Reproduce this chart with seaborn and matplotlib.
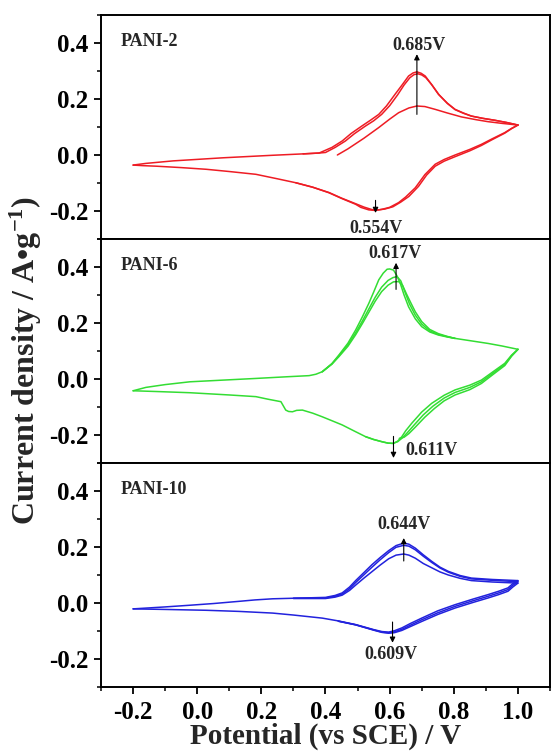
import numpy as np
import pandas as pd
import matplotlib
matplotlib.use("Agg")
import matplotlib.pyplot as plt
import seaborn as sns

sns.set_theme(style="ticks")
plt.rcParams.update({
    "font.family": ["Liberation Serif", "DejaVu Serif"],
    "font.weight": "bold",
    "mathtext.fontset": "custom",
    "mathtext.rm": "Liberation Serif:bold",
    "mathtext.it": "Liberation Serif:italic:bold",
    "mathtext.bf": "Liberation Serif:bold",
    "axes.linewidth": 1.4,
    "xtick.direction": "out", "ytick.direction": "out",
    "xtick.major.size": 5, "xtick.minor.size": 3,
    "ytick.major.size": 5, "ytick.minor.size": 3,
    "xtick.major.width": 1.3, "xtick.minor.width": 1.1,
    "ytick.major.width": 1.3, "ytick.minor.width": 1.1,
    "xtick.color": "black", "ytick.color": "black",
})

# --- PANI-2 (red) ---
p2_first_x = [0.437, 0.47, 0.52, 0.566, 0.60, 0.628, 0.66, 0.685, 0.71, 0.742, 0.78, 0.824, 0.87, 0.907, 0.95, 1.0]
p2_first_y = [0.0, 0.022, 0.06, 0.098, 0.128, 0.151, 0.168, 0.175, 0.173, 0.163, 0.150, 0.136, 0.126, 0.119, 0.113, 0.107]

p2_cat_a_x = [1.0, 0.98, 0.959, 0.92, 0.886, 0.85, 0.804, 0.77, 0.742, 0.71, 0.68, 0.65, 0.628, 0.60, 0.576, 0.555,
              0.535, 0.51, 0.494, 0.45, 0.411, 0.36, 0.307, 0.25, 0.183, 0.10, 0.028, -0.05, -0.127, -0.17, -0.2]
p2_cat_a_y = [0.107, 0.095, 0.08, 0.058, 0.038, 0.02, 0.0, -0.016, -0.033, -0.07, -0.117, -0.150, -0.170, -0.187,
              -0.194, -0.198, -0.196, -0.187, -0.176, -0.155, -0.135, -0.115, -0.099, -0.085, -0.069, -0.059,
              -0.051, -0.045, -0.040, -0.038, -0.036]
p2_an_a_x = [-0.2, -0.16, -0.075, 0.08, 0.235, 0.33, 0.38, 0.42, 0.452, 0.48, 0.514, 0.54, 0.566, 0.59, 0.617,
             0.64, 0.659, 0.673, 0.685, 0.698, 0.711, 0.73, 0.752, 0.78, 0.804, 0.83, 0.855, 0.89, 0.928, 0.965, 1.0]
p2_an_a_y = [-0.036, -0.030, -0.021, -0.010, -0.001, 0.004, 0.007, 0.027, 0.05, 0.077, 0.104, 0.124, 0.145, 0.175,
             0.217, 0.252, 0.282, 0.293, 0.297, 0.292, 0.282, 0.253, 0.217, 0.185, 0.163, 0.150, 0.139, 0.131,
             0.124, 0.116, 0.107]

p2_cat_b_x = [1.0, 0.98, 0.959, 0.92, 0.886, 0.85, 0.804, 0.77, 0.742, 0.715, 0.69, 0.66, 0.635, 0.61, 0.585, 0.565,
              0.545, 0.52, 0.494, 0.45, 0.411, 0.36, 0.307]
p2_cat_b_y = [0.107, 0.094, 0.078, 0.055, 0.034, 0.015, -0.006, -0.022, -0.040, -0.072, -0.112, -0.148, -0.168,
              -0.185, -0.193, -0.196, -0.195, -0.186, -0.174, -0.154, -0.134, -0.115, -0.099]
p2_an_b_x = [0.33, 0.38, 0.40, 0.43, 0.462, 0.49, 0.524, 0.55, 0.575, 0.60, 0.625, 0.645, 0.663, 0.676, 0.688,
             0.70, 0.713, 0.732, 0.754, 0.78, 0.804, 0.83, 0.855, 0.89, 0.928, 0.965, 1.0]
p2_an_b_y = [0.004, 0.007, 0.009, 0.027, 0.05, 0.076, 0.103, 0.122, 0.145, 0.176, 0.215, 0.250, 0.276, 0.287,
             0.290, 0.286, 0.276, 0.250, 0.215, 0.184, 0.162, 0.149, 0.139, 0.131, 0.124, 0.116, 0.107]

# --- PANI-6 (green) ---
p6_cat_a_x = [1.0, 0.98, 0.959, 0.92, 0.886, 0.85, 0.804, 0.77, 0.731, 0.70, 0.669, 0.65, 0.638, 0.625, 0.612, 0.595,
              0.576, 0.55, 0.525, 0.49, 0.452, 0.42, 0.39, 0.36, 0.328, 0.31, 0.297, 0.285, 0.276, 0.268, 0.261,
              0.22, 0.183, 0.10, -0.023, -0.12, -0.2]
p6_cat_a_y = [0.106, 0.085, 0.056, 0.024, -0.004, -0.022, -0.039, -0.058, -0.087, -0.118, -0.158, -0.185, -0.206,
              -0.222, -0.230, -0.229, -0.224, -0.216, -0.206, -0.186, -0.164, -0.149, -0.135, -0.122, -0.111,
              -0.112, -0.117, -0.116, -0.111, -0.095, -0.081, -0.072, -0.063, -0.057, -0.049, -0.045, -0.042]
p6_an_a_x = [-0.2, -0.16, -0.1, -0.023, 0.08, 0.183, 0.28, 0.349, 0.37, 0.39, 0.42, 0.442, 0.47, 0.494, 0.515, 0.535,
             0.55, 0.566, 0.58, 0.592, 0.60, 0.612, 0.622, 0.633, 0.645, 0.659, 0.68, 0.70, 0.725, 0.752, 0.78,
             0.804, 0.85, 0.907, 0.95, 1.0]
p6_an_a_y = [-0.042, -0.030, -0.020, -0.010, -0.004, 0.002, 0.008, 0.012, 0.017, 0.026, 0.055, 0.086, 0.128, 0.175,
             0.222, 0.27, 0.31, 0.354, 0.378, 0.392, 0.393, 0.389, 0.37, 0.342, 0.30, 0.258, 0.215, 0.187, 0.168,
             0.157, 0.150, 0.145, 0.137, 0.127, 0.118, 0.106]

p6_cat_b_x = [1.0, 0.98, 0.959, 0.92, 0.886, 0.85, 0.804, 0.77, 0.735, 0.705, 0.675, 0.655, 0.64, 0.625, 0.61,
              0.595, 0.576, 0.55, 0.525]
p6_cat_b_y = [0.106, 0.083, 0.052, 0.019, -0.010, -0.030, -0.048, -0.068, -0.097, -0.128, -0.166, -0.192, -0.210,
              -0.224, -0.230, -0.229, -0.224, -0.216, -0.206]
p6_an_b_x = [0.39, 0.42, 0.442, 0.47, 0.494, 0.515, 0.535, 0.555, 0.575, 0.595, 0.61, 0.623, 0.635, 0.648, 0.662,
             0.68, 0.70, 0.725, 0.752, 0.78, 0.804]
p6_an_b_y = [0.026, 0.054, 0.083, 0.122, 0.165, 0.207, 0.250, 0.292, 0.328, 0.352, 0.362, 0.366, 0.350, 0.310,
             0.268, 0.228, 0.196, 0.172, 0.159, 0.151, 0.145]

p6_cat_c_x = [1.0, 0.98, 0.959, 0.92, 0.886, 0.85, 0.804, 0.77, 0.74, 0.71, 0.68, 0.66, 0.645, 0.63]
p6_cat_c_y = [0.106, 0.081, 0.048, 0.014, -0.016, -0.038, -0.057, -0.078, -0.105, -0.136, -0.172, -0.195, -0.208,
              -0.212]
p6_an_c_x = [0.39, 0.42, 0.442, 0.47, 0.494, 0.515, 0.535, 0.555, 0.575, 0.595, 0.612, 0.628, 0.64, 0.652, 0.666,
             0.68, 0.70, 0.725, 0.752, 0.78, 0.804]
p6_an_c_y = [0.026, 0.053, 0.080, 0.117, 0.158, 0.198, 0.238, 0.278, 0.312, 0.335, 0.347, 0.348, 0.335, 0.305,
             0.272, 0.240, 0.205, 0.177, 0.162, 0.152, 0.145]

# --- PANI-10 (blue) ---
p10_cat_a_x = [1.0, 0.985, 0.969, 0.94, 0.907, 0.86, 0.804, 0.75, 0.70, 0.665, 0.638, 0.615, 0.597, 0.576, 0.55,
               0.494, 0.44, 0.39, 0.30, 0.235, 0.13, 0.028, -0.1, -0.2]
p10_cat_a_y = [0.080, 0.070, 0.054, 0.042, 0.030, 0.014, -0.006, -0.028, -0.054, -0.073, -0.089, -0.099, -0.104,
               -0.102, -0.095, -0.077, -0.064, -0.054, -0.043, -0.036, -0.030, -0.026, -0.023, -0.021]
p10_an_a_x = [-0.2, -0.1, -0.023, 0.05, 0.131, 0.18, 0.235, 0.30, 0.40, 0.43, 0.452, 0.475, 0.494, 0.52, 0.545,
              0.57, 0.597, 0.62, 0.644, 0.66, 0.68, 0.705, 0.731, 0.757, 0.783, 0.82, 0.855, 0.92, 1.0]
p10_an_a_y = [-0.021, -0.014, -0.008, -0.002, 0.006, 0.011, 0.015, 0.017, 0.020, 0.027, 0.036, 0.057, 0.080, 0.109,
              0.137, 0.162, 0.187, 0.205, 0.214, 0.210, 0.196, 0.172, 0.149, 0.128, 0.113, 0.098, 0.089, 0.084, 0.080]

p10_cat_b_x = [1.0, 0.985, 0.969, 0.94, 0.907, 0.86, 0.804, 0.75, 0.70, 0.665, 0.638, 0.615, 0.597, 0.576, 0.55,
               0.494, 0.44]
p10_cat_b_y = [0.076, 0.064, 0.048, 0.036, 0.024, 0.008, -0.012, -0.035, -0.060, -0.079, -0.094, -0.103, -0.106,
               -0.104, -0.096, -0.078, -0.065]
p10_an_b_x = [0.30, 0.40, 0.43, 0.452, 0.475, 0.494, 0.52, 0.545, 0.57, 0.597, 0.62, 0.644, 0.66, 0.68, 0.705,
              0.731, 0.757, 0.783, 0.82, 0.855, 0.92, 1.0]
p10_an_b_y = [0.017, 0.018, 0.024, 0.032, 0.051, 0.073, 0.101, 0.128, 0.154, 0.180, 0.199, 0.206, 0.203, 0.190,
              0.167, 0.145, 0.125, 0.110, 0.095, 0.086, 0.081, 0.076]

p10_cat_c_x = [1.0, 0.985, 0.969, 0.94, 0.907, 0.86, 0.804, 0.75, 0.70, 0.665, 0.638, 0.615, 0.597, 0.576, 0.55,
               0.494, 0.44]
p10_cat_c_y = [0.071, 0.058, 0.042, 0.030, 0.018, 0.002, -0.018, -0.041, -0.066, -0.084, -0.098, -0.106, -0.108,
               -0.105, -0.097, -0.078, -0.065]
p10_an_c_x = [0.30, 0.40, 0.43, 0.452, 0.475, 0.494, 0.52, 0.545, 0.57, 0.597, 0.62, 0.644, 0.66, 0.68, 0.705,
              0.731, 0.757, 0.783, 0.82, 0.855, 0.92, 1.0]
p10_an_c_y = [0.016, 0.016, 0.021, 0.028, 0.045, 0.064, 0.089, 0.112, 0.135, 0.158, 0.171, 0.175, 0.171, 0.160,
              0.141, 0.126, 0.111, 0.100, 0.088, 0.080, 0.075, 0.071]

panels = [
    ("PANI-2", "#ee1c24", [
        (p2_first_x, p2_first_y), (p2_cat_a_x, p2_cat_a_y), (p2_an_a_x, p2_an_a_y),
        (p2_cat_b_x, p2_cat_b_y), (p2_an_b_x, p2_an_b_y)]),
    ("PANI-6", "#33dd33", [
        (p6_cat_a_x, p6_cat_a_y), (p6_an_a_x, p6_an_a_y), (p6_cat_b_x, p6_cat_b_y),
        (p6_an_b_x, p6_an_b_y), (p6_cat_c_x, p6_cat_c_y), (p6_an_c_x, p6_an_c_y)]),
    ("PANI-10", "#2222dd", [
        (p10_cat_a_x, p10_cat_a_y), (p10_an_a_x, p10_an_a_y), (p10_cat_b_x, p10_cat_b_y),
        (p10_an_b_x, p10_an_b_y), (p10_cat_c_x, p10_cat_c_y), (p10_an_c_x, p10_an_c_y)]),
]

# peak annotations: (arrow x, tail y, head y, label, text x, text y)
peak_notes = [
    [(0.685, 0.145, 0.36, "0.685V", 0.69, 0.39), (0.556, -0.162, -0.207, "0.554V", 0.556, -0.262)],
    [(0.62, 0.32, 0.415, "0.617V", 0.617, 0.447), (0.612, -0.205, -0.282, "0.611V", 0.73, -0.255)],
    [(0.644, 0.15, 0.232, "0.644V", 0.644, 0.28), (0.609, -0.068, -0.142, "0.609V", 0.605, -0.183)],
]

W, H = 551, 755
fig = plt.figure(figsize=(W / 100, H / 100), dpi=100)
left, right = 101 / W, 550 / W
ph = 224 / H
bottom0 = 68 / H

axes = []
for i, (name, color, traces) in enumerate(panels):
    ax = fig.add_axes([left, bottom0 + (2 - i) * ph, right - left, ph])
    axes.append(ax)
    rows = []
    for k, (xs, ys) in enumerate(traces):
        rows.append(pd.DataFrame({"potential": xs, "current": ys, "trace": k}))
    df = pd.concat(rows, ignore_index=True)
    sns.lineplot(data=df, x="potential", y="current", units="trace", estimator=None, sort=False,
                 color=color, lw=1.1, ax=ax)
    ax.set_xlim(-0.3, 1.1)
    ax.set_ylim(-0.3, 0.5)
    ax.set_yticks([-0.2, 0.0, 0.2, 0.4])
    ax.set_yticks([-0.3, -0.1, 0.1, 0.3, 0.5], minor=True)
    ax.set_yticklabels(["-0.2", "0.0", "0.2", "0.4"], fontsize=18, fontweight="bold")
    ax.set_xticks([-0.2, 0.0, 0.2, 0.4, 0.6, 0.8, 1.0])
    ax.set_xticks([-0.3, -0.1, 0.1, 0.3, 0.5, 0.7, 0.9, 1.1], minor=True)
    ax.tick_params(axis="y", which="both", right=False, pad=4)
    if i < 2:
        ax.tick_params(axis="x", which="both", bottom=False, labelbottom=False)
    else:
        ax.set_xticklabels(["-0.2", "0.0", "0.2", "0.4", "0.6", "0.8", "1.0"], fontsize=18, fontweight="bold")
        ax.tick_params(axis="x", which="both", top=False, pad=5)
    ax.set_xlabel("")
    ax.set_ylabel("")
    for sp in ax.spines.values():
        sp.set_visible(True)
        sp.set_color("black")
        sp.set_linewidth(1.4)
    ax.text(-0.24, 0.405, name, fontsize=13, fontweight="bold", ha="left", va="center")
    for (ax_x, y0, y1, lab, tx, ty) in peak_notes[i]:
        ax.annotate("", xy=(ax_x, y1), xytext=(ax_x, y0),
                    arrowprops=dict(arrowstyle="-|>", color="black", lw=0.8, mutation_scale=8,
                                    shrinkA=0, shrinkB=0))
        ax.text(tx, ty, lab, fontsize=13, fontweight="bold", ha="center", va="center")

axes[2].set_xlabel("Potential (vs SCE) / V", fontsize=21, fontweight="bold", labelpad=-1)
fig.text(0.047, 0.522, r"Current density / A•g$^{-1}$)", rotation=90, fontsize=23, fontweight="bold",
         ha="center", va="center")

fig.savefig("out.png", dpi=100)
